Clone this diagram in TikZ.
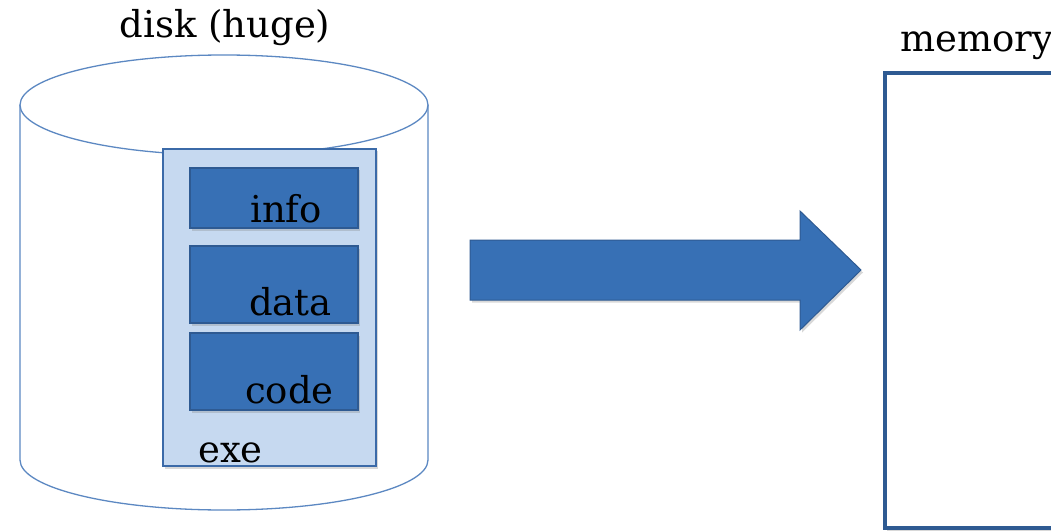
\documentclass[tikz,border=0pt]{standalone}
\usepackage{fontspec}
\setmainfont{DejaVu Serif}
\usetikzlibrary{shadows}
\definecolor{boxblue}{HTML}{3770B5}
\definecolor{boxedge}{HTML}{2E5A92}
\definecolor{exefill}{HTML}{C6D9F0}
\definecolor{exeedge}{HTML}{3B6AA8}
\definecolor{diskedge}{HTML}{5C88C2}
\tikzset{
  lbl/.style={font=\fontsize{37}{44}\selectfont, inner sep=0pt},
  shade/.style={drop shadow={opacity=0.3, shadow xshift=2pt, shadow yshift=-2.5pt}},
  part/.style={draw=boxedge, line width=1.2pt, fill=boxblue, shade},
}
\begin{document}
\begin{tikzpicture}[x=1pt,y=1pt]
\useasboundingbox (0,0) rectangle (1051,531);
\clip (0,0) rectangle (1051,531);
\fill[white] (0,0) rectangle (1051,531);

% disk cylinder
\draw[diskedge, line width=1.3pt, fill=white]
  (20,426) -- (20,71) arc[start angle=180, end angle=360, x radius=204, y radius=50]
  -- (428,426);
\draw[diskedge, line width=1.3pt, fill=white] (224,426) ellipse[x radius=204, y radius=50];
\node[lbl] (disk) at (225,503) {disk (huge)};

% executable and its sections
\draw[draw=exeedge, line width=1.5pt, fill=exefill, shade] (163,65) rectangle (376,382);
\coordinate (exe) at (269.5,223.5);
\node[part, minimum width=168pt, minimum height=60pt, inner sep=0pt] (info) at (274,333) {};
\node[part, minimum width=168pt, minimum height=77pt, inner sep=0pt] (data) at (274,246.5) {};
\node[part, minimum width=168pt, minimum height=77pt, inner sep=0pt] (code) at (274,159.5) {};
\node[lbl, anchor=base west] (infot) at (250,309) {info};
\node[lbl, anchor=base west] (datat) at (249,216) {data};
\node[lbl, anchor=base west] (codet) at (245,128) {code};
\node[lbl, anchor=base west] (exet) at (198,69) {exe};

% load arrow
\draw[draw=boxedge, line width=1pt, fill=boxblue, shade]
  (470,291) -- (800,291) -- (800,320) -- (861,261) -- (800,201) -- (800,231) -- (470,231) -- cycle;

% memory
\draw[draw=boxedge, line width=4pt, fill=white, shade] (885,3) rectangle (1120,458);
\node[lbl, anchor=base west] (mem) at (900,479) {memory};
\end{tikzpicture}
\end{document}
